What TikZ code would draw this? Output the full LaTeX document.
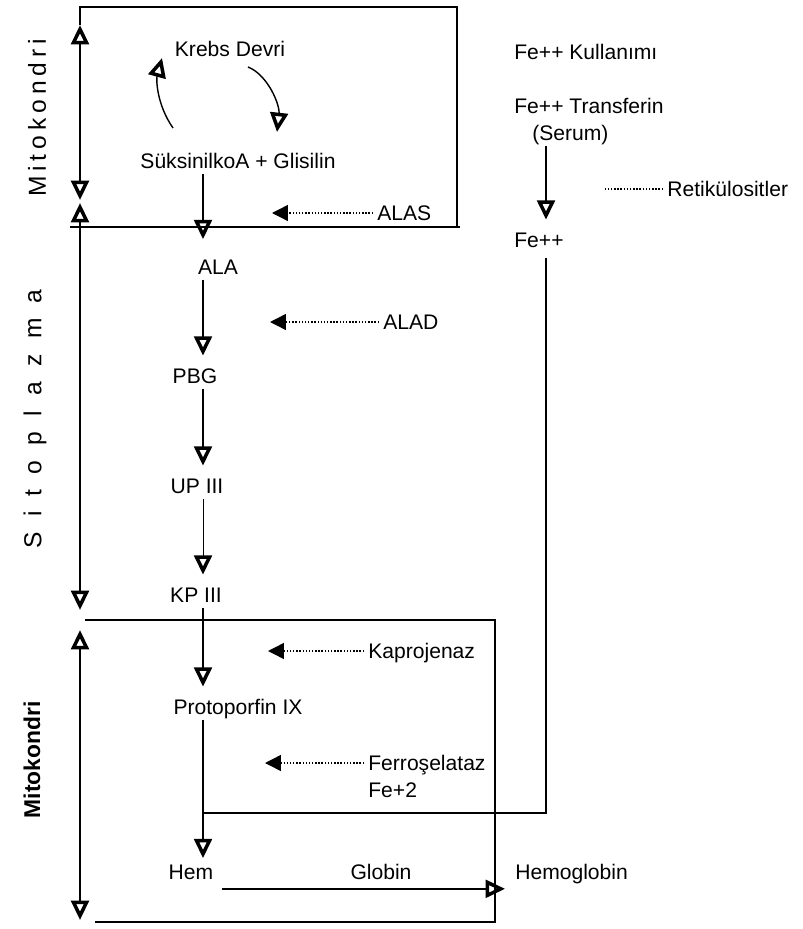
\documentclass[tikz,border=0pt]{standalone}
\usepackage{fontspec}
\setmainfont{Liberation Sans}
\newfontfamily\trackfont[LetterSpace=20]{Liberation Sans}
\newfontfamily\widetrackfont[LetterSpace=62]{Liberation Sans}
\usetikzlibrary{arrows.meta,calc}

\tikzset{
  lbl/.style={inner sep=0pt, font=\fontsize{12}{14}\selectfont, text height=8.5pt, text depth=0pt},
  side/.style={rotate=90, inner sep=0pt},
  flow/.style={thick, -{Triangle[open,length=11pt,width=10pt,line width=2pt]}, shorten <=0.1cm, shorten >=0.25cm},
  enz/.style={densely dotted, thick, -{Triangle[length=9pt,width=9pt]}, shorten <=0.08cm},
  region/.style={thick, {Triangle[open,length=11pt,width=10pt,line width=2pt]}-{Triangle[open,length=11pt,width=10pt,line width=2pt]}},
  frame/.style={line width=1pt}
}

\begin{document}
\begin{tikzpicture}[x=0.02cm,y=-0.02cm]
\useasboundingbox (0,0) rectangle (802,929);
\coordinate (spine) at (203,0);
\coordinate (fecol) at (546,0);

\draw[frame] (80,25) -- (80,7) -- (457,7) -- (457,227);
\draw[frame] (70,227) -- (460,227);
\draw[frame] (85,620) -- (495,620) -- (495,922) -- (95,922);
\draw[region] (80,25) -- (80,200);
\draw[region] (80,203) -- (80,610);
\draw[region] (80,630) -- (80,920);

\node[side, font=\trackfont\fontsize{14}{16}\selectfont] (mito1) at (37,118) {Mitokondri};
\node[side, font=\widetrackfont\fontsize{14}{16}\selectfont] (sito) at (35,419) {Sitoplazma};
\node[side, font=\bfseries\fontsize{13}{15}\selectfont] (mito2) at (32,760) {Mitokondri};

\node[lbl] (krebs) at (230,49) {Krebs Devri};
\node[lbl] (ksg) at (238,161) {SüksinilkoA + Glisilin};
\node[lbl] (ala) at (218,267) {ALA};
\node[lbl] (pbg) at (195,376) {PBG};
\node[lbl] (up) at (197,486) {UP III};
\node[lbl] (kp) at (196,595) {KP III};
\node[lbl] (ppix) at (238,707) {Protoporfin IX};
\node[lbl] (hem) at (191,872) {Hem};
\node[lbl] (globin) at (381,872) {Globin};
\node[lbl, anchor=west] (hgb) at (515,872) {Hemoglobin};

\node[lbl, anchor=west] (alas) at (377,213) {ALAS};
\node[lbl, anchor=west] (alad) at (383,322) {ALAD};
\node[lbl, anchor=west] (kapro) at (368,651) {Kaprojenaz};
\node[lbl, anchor=west] (ferro) at (368,763) {Ferroşelataz};
\node[lbl, anchor=west] (fe2) at (368,790) {Fe+2};

\node[lbl, anchor=west] (kull) at (514,52) {Fe++ Kullanımı};
\node[lbl, anchor=west] (transf) at (514,106) {Fe++ Transferin};
\node[lbl, anchor=west] (serum) at (532,133) {(Serum)};
\node[lbl, anchor=west] (fe) at (514,240) {Fe++};
\node[lbl, anchor=west] (retik) at (667,189) {Retikülositler};

\coordinate (kc1) at (173,128);
\coordinate (kc2) at (162,58);
\coordinate (kc3) at (248,67);
\coordinate (kc4) at (277,132);
\draw[flow, shorten <=0pt, shorten >=0pt] (kc1) .. controls (157,105) and (156,80) .. (kc2);
\draw[flow, shorten <=0pt, shorten >=0pt] (kc3) .. controls (268,75) and (280,105) .. (kc4);

\draw[flow, shorten >=0.4cm] (ksg.south -| spine) -- (ala.north -| spine);
\draw[flow] (ala.south -| spine) -- (pbg.north -| spine);
\draw[flow] (pbg.south -| spine) -- (up.north -| spine);
\draw[flow, thin] (up.south -| spine) -- (kp.north -| spine);
\draw[flow] (kp.south -| spine) -- (ppix.north -| spine);
\draw[flow, shorten >=0.12cm] (ppix.south -| spine) -- (hem.north -| spine);
\draw[flow, shorten <=0pt, shorten >=0pt] ($(hem.south east)+(8,9)$) -- ($(hgb.south west)+(-10,9)$);

\coordinate (alasT) at (272,213);
\coordinate (aladT) at (270,322);
\coordinate (kaproT) at (268,651);
\coordinate (ferroT) at (265,763);
\draw[enz] (alas.west) -- (alasT);
\draw[enz] (alad.west) -- (aladT);
\draw[enz] (kapro.west) -- (kaproT);
\draw[enz] (ferro.west) -- (ferroT);

\coordinate (retD) at (603,189);
\draw[densely dotted, thick, shorten <=0.08cm] (retik.west) -- (retD);

\draw[flow] (serum.south -| fecol) -- (fe.north -| fecol);
\coordinate (fejoin) at (203,813);
\draw[thick] ($(fe.south -| fecol)+(0,10)$) |- (fejoin);
\end{tikzpicture}
\end{document}
